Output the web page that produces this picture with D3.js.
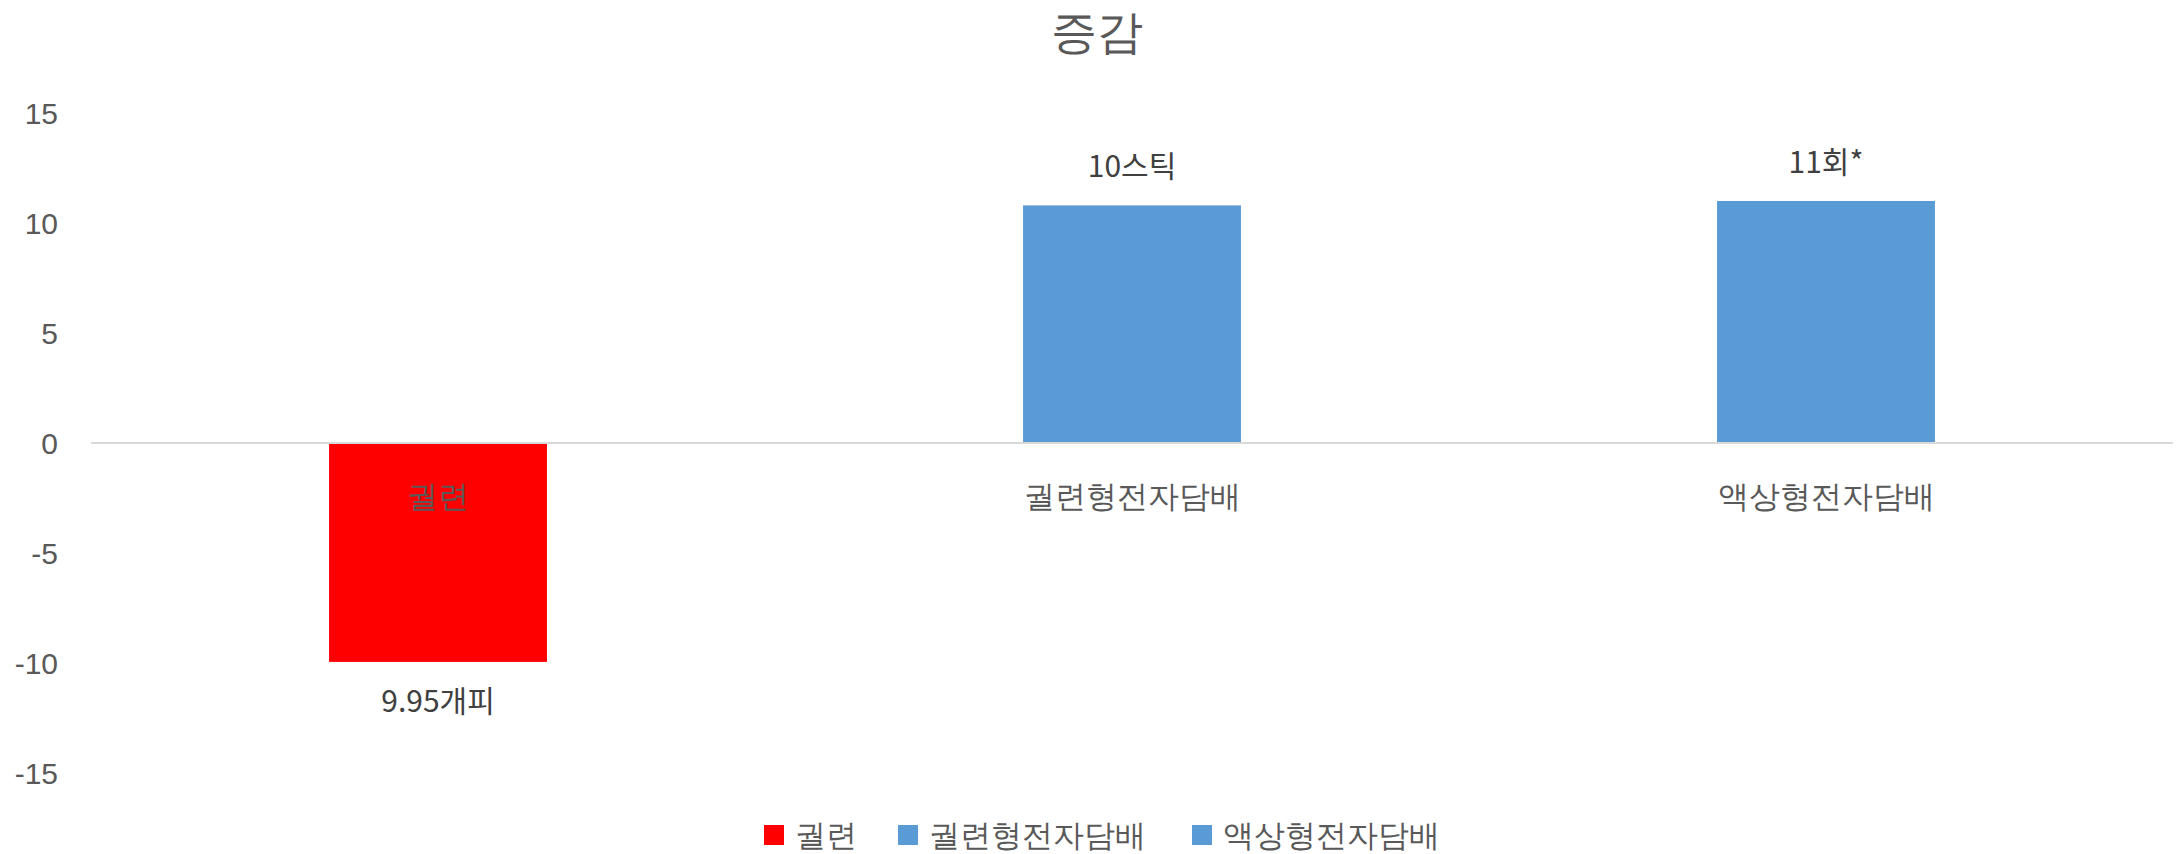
<!DOCTYPE html>
<html lang="ko">
<head>
<meta charset="UTF-8">
<title>증감</title>
<script src="https://d3js.org/d3.v7.min.js"></script>
<style>
  body { margin: 0; background: #fff; font-family: sans-serif; }
  .axis text { fill: #595959; font-size: 31px; }
  .y-axis text { font-size: 30px; }
  .val-label { fill: #404040; font-size: 30px; text-anchor: middle; font-family: "Noto Sans CJK KR", sans-serif; }
  .legend-label { fill: #595959; font-size: 31px; }
</style>
</head>
<body>
<svg id="chart" width="2180" height="854" font-family="sans-serif"></svg>
<script>
const categories = ["궐련", "궐련형전자담배", "액상형전자담배"];
const values = [-9.95, 10.8, 11.0];
const valueLabels = ["9.95개피", "10스틱", "11회*"];
const colors = ["#FF0000", "#5B9BD5", "#5B9BD5"];
const yTicks = [-15, -10, -5, 0, 5, 10, 15];

const svg = d3.select("#chart");

const x = d3.scaleBand()
    .domain(categories)
    .range([91, 2173])
    .paddingInner(0.686)
    .paddingOuter(0.343);

const y = d3.scaleLinear()
    .domain([-15, 15])
    .range([773, 113]);

// title
svg.append("text")
    .attr("x", 1097).attr("y", 36)
    .attr("dominant-baseline", "middle")
    .attr("text-anchor", "middle")
    .style("font-size", "46px")
    .style("fill", "#595959")
    .text("증감");

// y axis labels (plain hyphen like the original)
const yAxis = svg.append("g")
    .attr("class", "axis y-axis")
    .attr("transform", "translate(58,0)")
    .call(d3.axisLeft(y).tickValues(yTicks).tickSize(0).tickPadding(0)
        .tickFormat(d => String(d)));
yAxis.select(".domain").remove();
yAxis.selectAll("text").attr("dx", 0).attr("dy", "0.35em");

// bars
svg.selectAll(".bar")
    .data(categories)
    .enter().append("rect")
    .attr("class", "bar")
    .attr("x", d => x(d))
    .attr("width", x.bandwidth())
    .attr("y", (d, i) => y(Math.max(0, values[i])))
    .attr("height", (d, i) => Math.abs(y(values[i]) - y(0)))
    .attr("fill", (d, i) => colors[i]);

// zero line
svg.append("line")
    .attr("x1", 91).attr("x2", 2173)
    .attr("y1", y(0)).attr("y2", y(0))
    .attr("stroke", "#D9D9D9")
    .attr("stroke-width", 2);

// category labels
const xAxis = svg.append("g")
    .attr("class", "axis")
    .attr("transform", `translate(0,${y(0)})`)
    .call(d3.axisBottom(x).tickSize(0).tickPadding(0));
xAxis.select(".domain").remove();
xAxis.selectAll("text").attr("y", 53).attr("dy", "0.35em");

// value labels
svg.selectAll(".val-label")
    .data(categories)
    .enter().append("text")
    .attr("class", "val-label")
    .attr("x", d => x(d) + x.bandwidth() / 2)
    .attr("y", (d, i) => values[i] >= 0 ? y(values[i]) - 39 : y(values[i]) + 40)
    .attr("dy", "0.35em")
    .text((d, i) => valueLabels[i]);

// legend
const legendX = [764, 898, 1192];
const legend = svg.selectAll(".legend")
    .data(categories)
    .enter().append("g")
    .attr("class", "legend")
    .attr("transform", (d, i) => `translate(${legendX[i]},825)`);
legend.append("rect")
    .attr("width", 20).attr("height", 20)
    .attr("fill", (d, i) => colors[i]);
legend.append("text")
    .attr("class", "legend-label")
    .attr("x", 31).attr("y", 10)
    .attr("dy", "0.35em")
    .text(d => d);
</script>
</body>
</html>
